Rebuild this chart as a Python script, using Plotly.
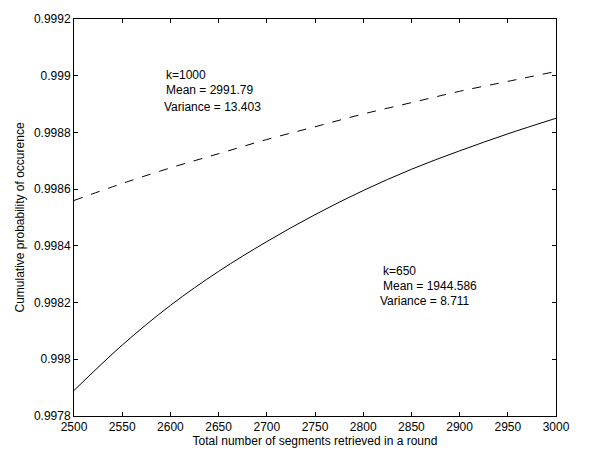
import plotly.graph_objects as go

segments = [2500, 2550, 2600, 2650, 2700, 2750, 2800, 2850, 2900, 2950, 3000]
k1000 = [0.99856, 0.99862, 0.998675, 0.998725, 0.998775, 0.99882, 0.998865, 0.998905, 0.998945, 0.99898, 0.999015]
k650 = [0.99789, 0.99805, 0.99819, 0.99831, 0.998415, 0.99851, 0.998595, 0.99867, 0.998735, 0.998795, 0.99885]

x_ticks = [2500, 2550, 2600, 2650, 2700, 2750, 2800, 2850, 2900, 2950, 3000]
y_ticks = [0.9978, 0.998, 0.9982, 0.9984, 0.9986, 0.9988, 0.999, 0.9992]
y_tick_labels = ["0.9978", "0.998", "0.9982", "0.9984", "0.9986", "0.9988", "0.999", "0.9992"]

font = "Liberation Sans, Arial, sans-serif"

fig = go.Figure()
fig.add_trace(go.Scatter(x=segments, y=k1000, mode="lines", line=dict(color="black", width=1, dash="dash"),
                         line_shape="spline", showlegend=False, hoverinfo="skip"))
fig.add_trace(go.Scatter(x=segments, y=k650, mode="lines", line=dict(color="black", width=1),
                         line_shape="spline", showlegend=False, hoverinfo="skip"))

ann_style = dict(showarrow=False, xanchor="left", yanchor="middle", font=dict(family=font, size=12, color="black"))
fig.add_annotation(x=2593, y=0.999003, text="k=1000", **ann_style)
fig.add_annotation(x=2593, y=0.998948, text="Mean = 2991.79", **ann_style)
fig.add_annotation(x=2591, y=0.998890, text="Variance = 13.403", **ann_style)
fig.add_annotation(x=2818, y=0.998310, text="k=650", **ann_style)
fig.add_annotation(x=2818, y=0.998259, text="Mean = 1944.586", **ann_style)
fig.add_annotation(x=2815, y=0.998204, text="Variance = 8.711", **ann_style)

fig.update_layout(
    width=608, height=456,
    margin=dict(l=74, r=52, t=13, b=35),
    paper_bgcolor="white", plot_bgcolor="white",
    font=dict(family=font, size=12, color="black"),
    showlegend=False,
)
fig.update_xaxes(range=[2500, 3000], tickvals=x_ticks, ticks="inside", ticklen=4, tickcolor="black",
                 showline=True, linecolor="black", linewidth=1, mirror="ticks", showgrid=False, zeroline=False,
                 title=dict(text="Total number of segments retrieved in a round", standoff=1,
                            font=dict(size=12)),
                 tickfont=dict(size=12))
fig.update_yaxes(range=[0.9978, 0.9992], tickvals=y_ticks, ticktext=y_tick_labels, ticks="inside", ticklen=4,
                 tickcolor="black", showline=True, linecolor="black", linewidth=1, mirror="ticks",
                 showgrid=False, zeroline=False,
                 title=dict(text="Cumulative probability of occurence", standoff=6, font=dict(size=12)),
                 tickfont=dict(size=12))

fig.write_html("out.html", config={"displayModeBar": False},
               post_script="document.body.style.margin='0';")
